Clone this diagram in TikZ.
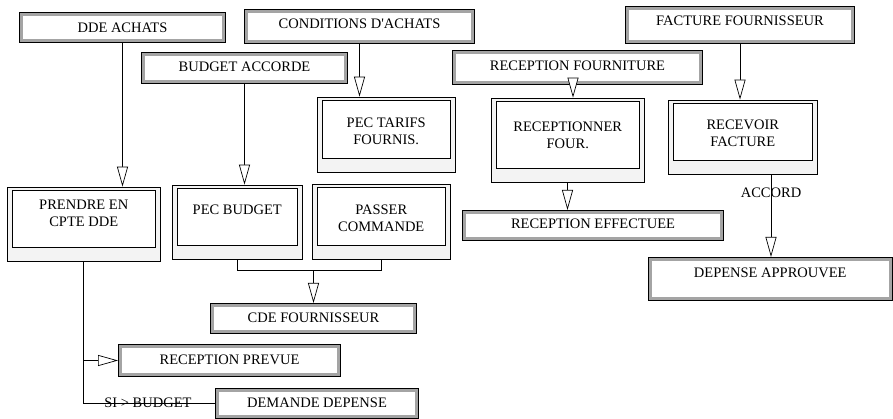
\documentclass[tikz,border=0pt]{standalone}
\usepackage{fontspec}
\newfontfamily\lsfont{Liberation Serif}
\usetikzlibrary{arrows.meta}
\definecolor{bandgray}{HTML}{A4A4A4}
\definecolor{procfill}{HTML}{F3F3F3}
\tikzset{
  evt/.style={draw=black, line width=0.8pt, fill=bandgray, inner sep=0pt},
  procout/.style={draw=black, line width=0.7pt, fill=procfill, inner sep=0pt},
  procin/.style={draw=black, line width=0.9pt, fill=white, inner sep=0pt},
  lbl/.style={font=\lsfont\fontsize{14.5}{17}\selectfont, align=center, inner sep=0pt},
  conn/.style={draw=black, line width=0.7pt},
  arr/.style={conn, -{Triangle[open, fill=white, length=20pt, width=11pt, line width=0.7pt]}},
  onlabel/.style={font=\lsfont\fontsize{14.5}{17}\selectfont, inner sep=0pt}
}
\newcommand\evtbox[7][]{%
  \pgfmathsetmacro\bxw{#5-#3-0.8}\pgfmathsetmacro\bxh{#6-#4-0.8}%
  \node[evt, minimum width=\bxw pt, minimum height=\bxh pt] (#2) at ({(#3+#5)/2},{(#4+#6)/2}) {};
  \fill[white] ([shift={(3.6,3.6)}]#2.north west) rectangle ([shift={(-3.6,-3.6)}]#2.south east);
  \node[lbl, #1] (#2t) at (#2.center) {#7};
}
\newcommand\procbox[7][]{%
  \pgfmathsetmacro\bxw{#5-#3}\pgfmathsetmacro\bxh{#6-#4}%
  \node[procout, minimum width=\bxw pt, minimum height=\bxh pt] (#2) at ({(#3+#5)/2},{(#4+#6)/2}) {};
  \pgfmathsetmacro\bxiw{#5-#3-9.5}\pgfmathsetmacro\bxih{#6-#4-17.5}%
  \node[procin, minimum width=\bxiw pt, minimum height=\bxih pt] (#2i) at ({(#3+#5)/2+0.25},{#4+3.5+\bxih/2}) {};
  \node[lbl, #1] (#2t) at (#2i.center) {#7};
}
\begin{document}
\begin{tikzpicture}[x=1pt, y=-1pt]
\useasboundingbox (0,0) rectangle (893,419);

% event boxes
\evtbox{dde}{19}{12}{226}{43}{DDE ACHATS}
\evtbox[yshift=3pt]{cond}{244}{9}{475}{44}{CONDITIONS D'ACHATS}
\evtbox[yshift=1pt]{budget}{141}{52}{348}{84}{BUDGET ACCORDE}
\evtbox[yshift=2pt]{rf}{452}{50}{703}{85}{RECEPTION FOURNITURE}
\evtbox[yshift=4pt]{fact}{625}{6}{855}{44}{FACTURE FOURNISSEUR}
\evtbox[yshift=1.5pt]{reff}{462}{210}{724}{241}{RECEPTION EFFECTUEE}
\evtbox[yshift=6pt]{dep}{648}{257}{892.5}{301}{DEPENSE APPROUVEE}
\evtbox[yshift=1pt]{cde}{210}{303}{417}{334}{CDE FOURNISSEUR}
\evtbox[yshift=1pt]{rprev}{118}{344}{341}{377}{RECEPTION PREVUE}
\evtbox{demd}{215}{388}{419}{418.5}{DEMANDE DEPENSE}

% process boxes
\procbox[yshift=-2.5pt]{pect}{317}{97}{455}{172}{PEC TARIFS\\FOURNIS.}
\procbox[yshift=5pt]{prendre}{7}{187}{160}{261}{PRENDRE EN\\CPTE DDE}
\procbox[yshift=7pt]{pecb}{172}{185}{302}{259}{PEC BUDGET}
\procbox[yshift=-2.5pt]{passer}{312}{184}{450}{259}{PASSER\\COMMANDE}
\procbox[yshift=-1pt]{rcpt}{491}{98}{644}{182}{RECEPTIONNER\\FOUR.}
\procbox[yshift=-2pt]{recv}{668}{100}{817}{174}{RECEVOIR\\FACTURE}

% helper coordinates
\coordinate (xa) at (573,0);
\coordinate (xb) at (771,0);

% connectors
\draw[arr] (dde.south) -- (dde.south |- prendre.north);
\draw[arr] (budget.south) -- (budget.south |- pecb.north);
\draw[arr] (cond.south) -- (cond.south |- pect.north);
\draw[arr] (xa |- rf.south) -- (xa |- rcpt.north);
\draw[arr] (fact.south) -- (fact.south |- recv.north);
\draw[arr] (rcpt.south) -- (rcpt.south |- reff.north);
\draw[arr] (xb |- recv.south) -- (xb |- dep.north)
  node[onlabel, pos=0.22] (accord) {ACCORD};

\draw[conn] (pecb.south) -- ++(0,11) coordinate (jn) -| (passer.south);
\draw[arr] (jn -| cde.north) -- (cde.north);

\draw[conn] (prendre.south) |- (demd.west)
  node[onlabel, pos=0.745] (si) {SI > BUDGET};
\draw[arr] (prendre.south |- rprev.west) -- (rprev.west);
\end{tikzpicture}
\end{document}
